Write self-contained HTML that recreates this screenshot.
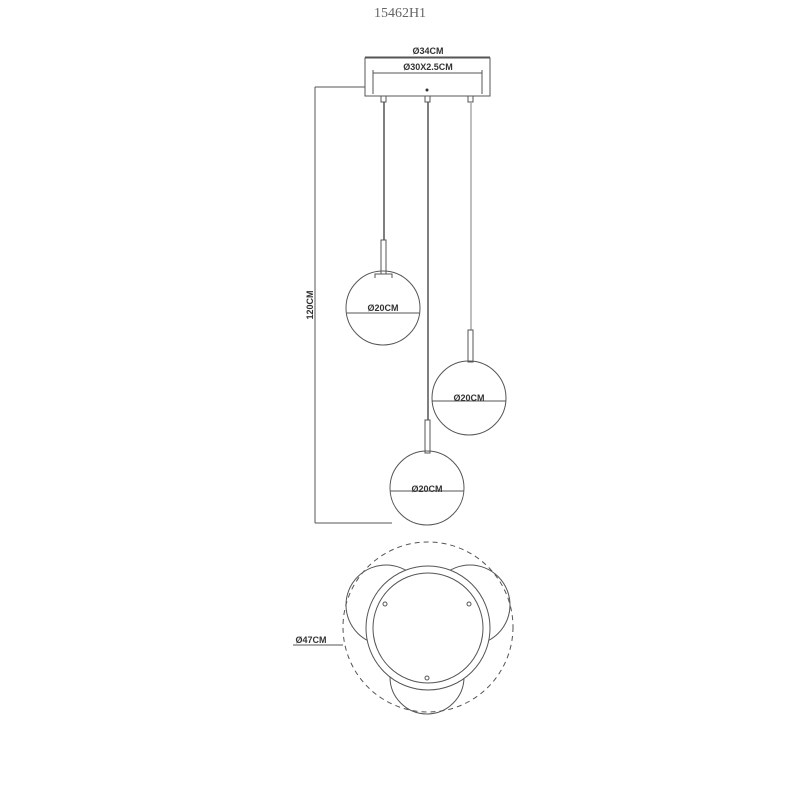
<!DOCTYPE html>
<html><head><style>body{margin:0;background:#fff}</style></head><body>
<svg width="800" height="800" xmlns="http://www.w3.org/2000/svg" font-family="Liberation Sans, sans-serif">
<text x="400" y="17" font-family="Liberation Serif, serif" font-size="14" fill="#666" text-anchor="middle">15462H1</text>
<g stroke="#555" fill="none" stroke-width="1">
<rect x="365" y="58" width="125" height="38"/>
<line x1="365" y1="57" x2="490" y2="57"/>
<line x1="373" y1="73" x2="482" y2="73"/>
<line x1="373" y1="70" x2="373" y2="94"/><line x1="482" y1="70" x2="482" y2="94"/>
<line x1="315" y1="87" x2="365" y2="87"/>
<line x1="315" y1="87" x2="315" y2="523"/>
<line x1="315" y1="523" x2="392" y2="523"/>
<rect x="381" y="96" width="5" height="6"/><rect x="425" y="96" width="5" height="6"/><rect x="468" y="96" width="5" height="6"/>
<line x1="384" y1="102" x2="384" y2="240" stroke-width="1.5"/>
<rect x="381" y="240" width="5" height="34"/>
<path d="M375 278 L375 274 L392 274 L392 278"/>
<circle cx="383" cy="308" r="37"/>
<line x1="347" y1="313" x2="419" y2="313"/>
<line x1="428" y1="102" x2="428" y2="420" stroke-width="1.5"/>
<rect x="425" y="420" width="5" height="33"/>
<circle cx="427" cy="488" r="37"/>
<line x1="390" y1="491" x2="464" y2="491"/>
<line x1="471" y1="102" x2="471" y2="330" stroke="#aaa" stroke-width="1.5"/>
<rect x="468" y="330" width="5" height="32"/>
<circle cx="469" cy="398" r="37"/>
<line x1="432" y1="401" x2="506" y2="401"/>
<circle cx="428" cy="627" r="85" stroke-dasharray="5,4"/>
<circle cx="386" cy="605" r="40"/>
<circle cx="470" cy="605" r="40"/>
<circle cx="427" cy="677" r="37"/>
<circle cx="428" cy="628" r="62" fill="#fff"/>
<circle cx="428" cy="628" r="55"/>
<circle cx="385" cy="604" r="2"/><circle cx="469" cy="604" r="2"/><circle cx="427" cy="678" r="2"/>
<line x1="293" y1="645" x2="343" y2="645"/>
</g>
<circle cx="427" cy="90" r="1.5" fill="#333"/>
<g font-size="9" font-weight="bold" fill="#333" text-anchor="middle">
<text x="428" y="54">Ø34CM</text>
<text x="428" y="70">Ø30X2.5CM</text>
<text x="383" y="311">Ø20CM</text>
<text x="469" y="401">Ø20CM</text>
<text x="427" y="492">Ø20CM</text>
<text x="311" y="643">Ø47CM</text>
<text x="0" y="0" transform="translate(313,305) rotate(-90)">120CM</text>
</g>
</svg>
</body></html>
